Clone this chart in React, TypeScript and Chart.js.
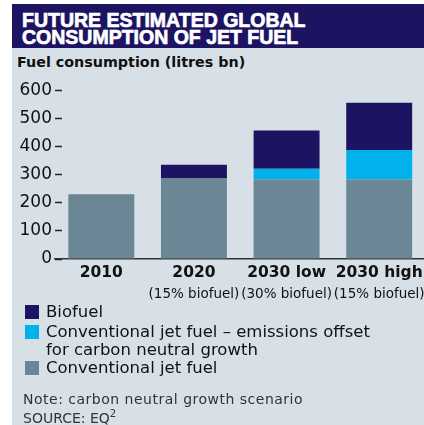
import React, { useEffect, useRef } from "react";
import { Chart, registerables } from "chart.js";

Chart.register(...registerables);

const categories = ["2010", "2020", "2030 low", "2030 high"];
const subLabels = ["", "(15% biofuel)", "(30% biofuel)", "(15% biofuel)"];
const conventional = [230, 286, 283, 283];
const offsetFuel = [0, 0, 38, 104];
const biofuel = [0, 49, 136, 168];
const yMin = 0;
const yMax = 600;
const yStep = 100;

const NAVY = "#1c1463";
const CYAN = "#00b1eb";
const GREY = "#6b8694";
const PANEL = "#d8e0e7";

const legendItems = [
  { color: NAVY, lines: ["Biofuel"] },
  { color: CYAN, lines: ["Conventional jet fuel \u2013 emissions offset", "for carbon neutral growth"] },
  { color: GREY, lines: ["Conventional jet fuel"] },
];

export default function App() {
  const ref = useRef<HTMLCanvasElement | null>(null);

  useEffect(() => {
    if (!ref.current) return;
    const chart = new Chart(ref.current, {
      type: "bar",
      data: {
        labels: categories,
        datasets: [
          { label: "Conventional jet fuel", data: conventional, backgroundColor: GREY, borderWidth: 0 },
          { label: "Conventional jet fuel – emissions offset for carbon neutral growth", data: offsetFuel, backgroundColor: CYAN, borderWidth: 0 },
          { label: "Biofuel", data: biofuel, backgroundColor: NAVY, borderWidth: 0 },
        ],
      },
      options: {
        responsive: false,
        animation: false,
        devicePixelRatio: 1,
        layout: { padding: { top: 17, right: 0, bottom: 0, left: 0 } },
        datasets: { bar: { categoryPercentage: 1, barPercentage: 0.712 } },
        plugins: { legend: { display: false }, tooltip: { enabled: false } },
        scales: {
          x: {
            stacked: true,
            offset: true,
            grid: { display: false, drawTicks: false },
            border: { display: true, color: "#333333", width: 1.5 },
            ticks: {
              color: "#111111",
              font: { family: "DejaVu Sans", weight: "bold", size: 15.5 },
              padding: 5,
              maxRotation: 0,
              minRotation: 0,
              autoSkip: false,
            },
            afterFit: (s: any) => { s.height = 24; },
          },
          x2: {
            type: "category",
            labels: subLabels,
            position: "bottom",
            offset: true,
            grid: { display: false, drawTicks: false },
            border: { display: false },
            ticks: {
              color: "#111111",
              font: { family: "DejaVu Sans", size: 13.5 },
              padding: 3,
              maxRotation: 0,
              minRotation: 0,
              autoSkip: false,
            },
            afterFit: (s: any) => { s.height = 24; },
          },
          y: {
            stacked: true,
            min: yMin,
            max: yMax,
            border: { display: false },
            grid: {
              display: true,
              drawOnChartArea: false,
              drawTicks: true,
              tickLength: -7,
              tickColor: "#222222",
              tickWidth: 1.5,
            },
            ticks: {
              stepSize: yStep,
              color: "#111111",
              font: { family: "DejaVu Sans", size: 17 },
              padding: 10,
            },
            afterFit: (s: any) => { s.width = 55; },
          },
        },
      },
    });
    return () => chart.destroy();
  }, []);

  const base: React.CSSProperties = { position: "absolute", whiteSpace: "nowrap", margin: 0 };

  return (
    <div style={{ position: "absolute", left: 0, top: 0, width: 424, height: 425, overflow: "hidden", background: "#ffffff" }}>
      <div style={{ ...base, left: 12, top: 4, width: 412, height: 421, background: PANEL }} />
      <div style={{ ...base, left: 12, top: 4, width: 412, height: 44, background: NAVY }} />
      <div style={{ ...base, left: 22, top: 10.5, color: "#ffffff", fontFamily: "'Liberation Sans', Arial, sans-serif", fontWeight: 700, fontSize: 19.5, lineHeight: "19.5px", WebkitTextStroke: "0.7px #ffffff" }}>
        FUTURE ESTIMATED GLOBAL
      </div>
      <div style={{ ...base, left: 22, top: 28, color: "#ffffff", fontFamily: "'Liberation Sans', Arial, sans-serif", fontWeight: 700, fontSize: 19.5, lineHeight: "19.5px", WebkitTextStroke: "0.7px #ffffff" }}>
        CONSUMPTION OF JET FUEL
      </div>
      <div style={{ ...base, left: 17, top: 55, color: "#111111", fontFamily: "'DejaVu Sans', sans-serif", fontWeight: 700, fontSize: 14.3, lineHeight: "14.3px" }}>
        Fuel consumption (litres bn)
      </div>
      <canvas ref={ref} width={428} height={237} style={{ position: "absolute", left: 0, top: 70, width: 428, height: 237 }} />
      {legendItems.map((item, i) => {
        const tops = [302.5, 322.5, 358.5];
        return (
          <div key={i} style={{ ...base, left: 25, top: tops[i] }}>
            <div style={{ position: "absolute", left: 0, top: 2, width: 14, height: 14, background: item.color }} />
            {item.lines.map((ln, j) => (
              <div key={j} style={{ position: "absolute", left: 21, top: j * 18, fontFamily: "'DejaVu Sans', sans-serif", fontSize: 16.5, lineHeight: "18px", color: "#111111" }}>
                {ln}
              </div>
            ))}
          </div>
        );
      })}
      <div style={{ ...base, left: 23, top: 390, color: "#333333", fontFamily: "'DejaVu Sans', sans-serif", fontSize: 14, lineHeight: "19px", letterSpacing: 0.5 }}>
        Note: carbon neutral growth scenario
      </div>
      <div style={{ ...base, left: 23, top: 409, color: "#333333", fontFamily: "'DejaVu Sans', sans-serif", fontSize: 14, lineHeight: "19px" }}>
        SOURCE: EQ<sup style={{ fontSize: 10, verticalAlign: "6px", lineHeight: 0 }}>2</sup>
      </div>
    </div>
  );
}
